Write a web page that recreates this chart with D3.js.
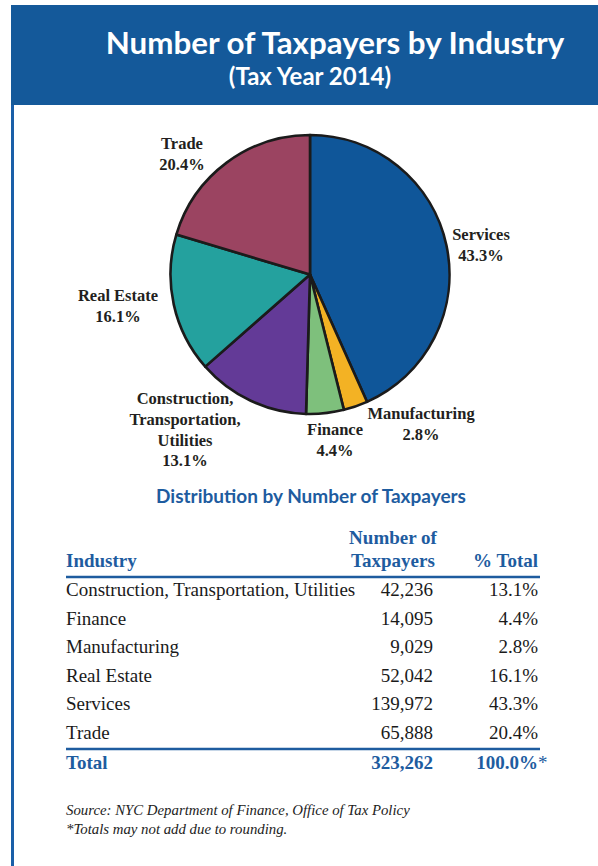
<!DOCTYPE html>
<html><head><meta charset="utf-8">
<script src="https://cdn.jsdelivr.net/npm/d3@7/dist/d3.min.js"></script>
<style>body{margin:0;background:#fff}svg{display:block}</style>
</head><body>
<script>
// ---- data ----
const industries = ["Construction, Transportation, Utilities","Finance","Manufacturing","Real Estate","Services","Trade"];
const taxpayers = [42236, 14095, 9029, 52042, 139972, 65888];
const percents = ["13.1%","4.4%","2.8%","16.1%","43.3%","20.4%"];
const totalTaxpayers = 323262;
const totalPercent = "100.0%";
const pieOrder = ["Services","Manufacturing","Finance","Construction, Transportation, Utilities","Real Estate","Trade"];
const pieLabelNames = {
  "Services": ["Services"],
  "Manufacturing": ["Manufacturing"],
  "Finance": ["Finance"],
  "Construction, Transportation, Utilities": ["Construction,","Transportation,","Utilities"],
  "Real Estate": ["Real Estate"],
  "Trade": ["Trade"]
};
const titleText = "Number of Taxpayers by Industry";
const subtitleText = "(Tax Year 2014)";
const tableTitle = "Distribution by Number of Taxpayers";
const colHeaders = ["Industry", ["Number of","Taxpayers"], "% Total"];
const sourceLines = ["Source: NYC Department of Finance, Office of Tax Policy","*Totals may not add due to rounding."];

// ---- style / layout ----
const W = 598, H = 866;
const blue = "#14599a", textBlue = "#1e5c9f";
const colors = {
  "Services": "#0f5699",
  "Manufacturing": "#f3b224",
  "Finance": "#7ec07c",
  "Construction, Transportation, Utilities": "#633a97",
  "Real Estate": "#24a19e",
  "Trade": "#9b4461"
};
const cx = 310, cy = 274.5, R = 139.5;
// label anchor offsets (first baseline, centred) relative to pie centre
const labelOffset = {
  "Services": [171, -34.5],
  "Manufacturing": [111, 144.5],
  "Finance": [25, 160.5],
  "Construction, Transportation, Utilities": [-125, 129.5],
  "Real Estate": [-192, 26.5],
  "Trade": [-128, -125.5]
};
const serif = "'Liberation Serif', 'Times New Roman', serif";
const sans = "Lato, 'Open Sans', sans-serif";

const svg = d3.select("body").append("svg").attr("width", W).attr("height", H);

// header band + left rule
svg.append("rect").attr("x", 11).attr("y", 5).attr("width", W - 11).attr("height", 100).attr("fill", blue);
svg.append("rect").attr("x", 11).attr("y", 105).attr("width", 3).attr("height", H - 105).attr("fill", "#1a5fa8");

svg.append("text").attr("x", 335).attr("y", 54).attr("text-anchor", "middle")
  .attr("font-family", sans).attr("font-weight", 700).attr("font-size", 31.3).attr("fill", "#fff")
  .text(titleText);
svg.append("text").attr("x", 310).attr("y", 85).attr("text-anchor", "middle")
  .attr("font-family", sans).attr("font-weight", 700).attr("font-size", 24).attr("fill", "#fff")
  .text(subtitleText);

// ---- pie ----
const pieData = pieOrder.map(name => ({ name, value: taxpayers[industries.indexOf(name)], pct: percents[industries.indexOf(name)] }));
const arcs = d3.pie().sort(null).value(d => d.value)(pieData);
const arc = d3.arc().innerRadius(0).outerRadius(R);
const g = svg.append("g").attr("transform", `translate(${cx},${cy})`);
g.selectAll("path.slice").data(arcs).join("path").attr("class", "slice")
  .attr("d", arc).attr("fill", d => colors[d.data.name])
  .attr("stroke", "#1b1b1b").attr("stroke-width", 2.6).attr("stroke-linejoin", "round");

const lab = g.selectAll("text.lab").data(arcs).join("text").attr("class", "lab")
  .attr("text-anchor", "middle").attr("font-family", serif).attr("font-weight", 700)
  .attr("font-size", 16.5).attr("fill", "#231f20");
lab.each(function(d) {
  const [ox, oy] = labelOffset[d.data.name];
  const lines = pieLabelNames[d.data.name].concat([d.data.pct]);
  d3.select(this).selectAll("tspan").data(lines).join("tspan")
    .attr("x", ox).attr("y", (l, i) => oy + i * 20.8).text(l => l);
});

// ---- table ----
svg.append("text").attr("x", 311).attr("y", 503).attr("text-anchor", "middle")
  .attr("font-family", sans).attr("font-weight", 700).attr("font-size", 19).attr("fill", textBlue)
  .text(tableTitle);

const xInd = 66, xNum = 433, xPct = 538, xLineL = 66, xLineR = 540;
const hdr = svg.append("g").attr("font-family", serif).attr("font-weight", 700).attr("font-size", 19).attr("fill", textBlue);
hdr.append("text").attr("x", xInd).attr("y", 567).text(colHeaders[0]);
hdr.append("text").attr("x", 393).attr("y", 544).attr("text-anchor", "middle").text(colHeaders[1][0]);
hdr.append("text").attr("x", 393).attr("y", 567).attr("text-anchor", "middle").text(colHeaders[1][1]);
hdr.append("text").attr("x", xPct).attr("y", 567).attr("text-anchor", "end").text(colHeaders[2]);

svg.append("line").attr("x1", xLineL).attr("x2", xLineR).attr("y1", 577).attr("y2", 577)
  .attr("stroke", textBlue).attr("stroke-width", 2.5);

const rowY = d3.scaleLinear().domain([0, 5]).range([596, 739]);
const fmt = d3.format(",");
const rows = svg.append("g").attr("font-family", serif).attr("font-size", 19).attr("fill", "#1a1a1a");
industries.forEach((name, i) => {
  rows.append("text").attr("x", xInd).attr("y", rowY(i)).text(name);
  rows.append("text").attr("x", xNum).attr("y", rowY(i)).attr("text-anchor", "end").text(fmt(taxpayers[i]));
  rows.append("text").attr("x", xPct).attr("y", rowY(i)).attr("text-anchor", "end").text(percents[i]);
});

svg.append("line").attr("x1", xLineL).attr("x2", xLineR).attr("y1", 749).attr("y2", 749)
  .attr("stroke", textBlue).attr("stroke-width", 2.5);

const tot = svg.append("g").attr("font-family", serif).attr("font-weight", 700).attr("font-size", 19).attr("fill", textBlue);
tot.append("text").attr("x", xInd).attr("y", 769).text("Total");
tot.append("text").attr("x", xNum).attr("y", 769).attr("text-anchor", "end").text(fmt(totalTaxpayers));
tot.append("text").attr("x", xPct).attr("y", 769).attr("text-anchor", "end").text(totalPercent);
tot.append("text").attr("x", xPct).attr("y", 769).attr("font-weight", 400).text("*");

// ---- source ----
const src = svg.append("g").attr("font-family", serif).attr("font-style", "italic").attr("font-size", 14.8).attr("fill", "#222");
sourceLines.forEach((s, i) => src.append("text").attr("x", 66).attr("y", 815 + i * 18.5).text(s));
</script>
</body></html>
